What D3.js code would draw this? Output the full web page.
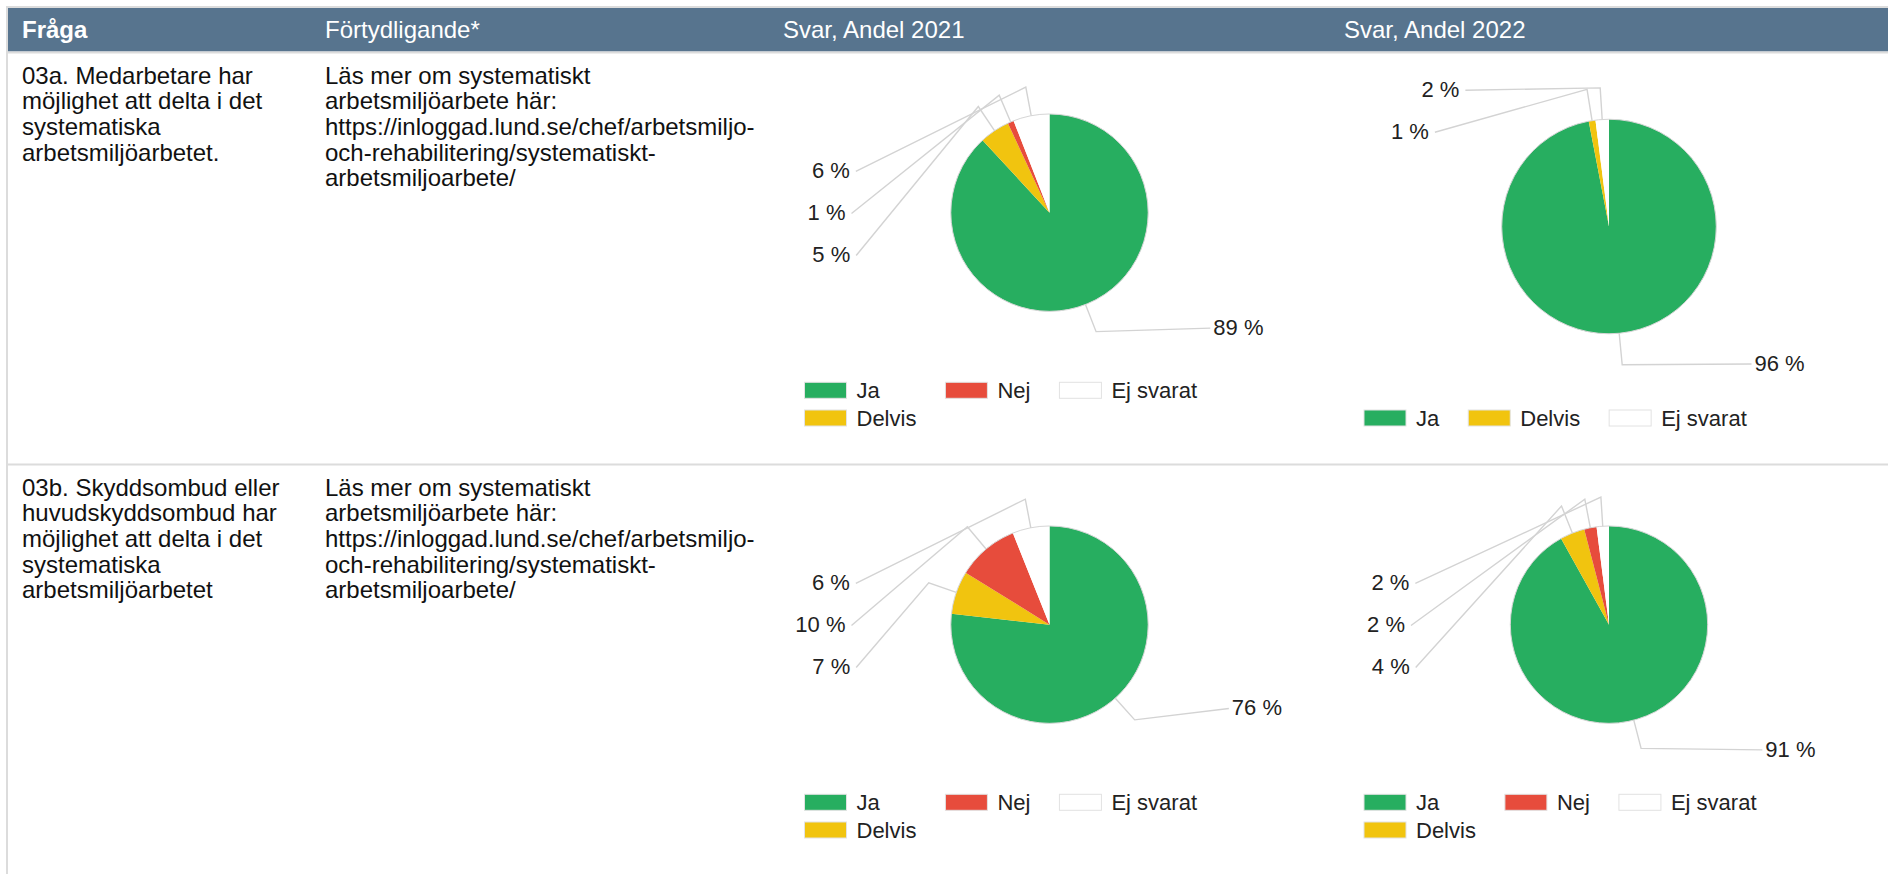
<!DOCTYPE html>
<html>
<head>
<meta charset="utf-8">
<script src="https://cdn.jsdelivr.net/npm/d3@7"></script>
<style>
  html, body { margin: 0; padding: 0; background: #fff; }
  svg { display: block; font-family: "Liberation Sans", Arial, sans-serif; }
</style>
</head>
<body>
<svg id="chart" width="1888" height="874"></svg>
<script>
// table content
const headers = ["Fråga", "Förtydligande*", "Svar, Andel 2021", "Svar, Andel 2022"];
const questions = [
  ["03a. Medarbetare har", "möjlighet att delta i det", "systematiska", "arbetsmiljöarbetet."],
  ["03b. Skyddsombud eller", "huvudskyddsombud har", "möjlighet att delta i det", "systematiska", "arbetsmiljöarbetet"]
];
const clarification = [
  "Läs mer om systematiskt",
  "arbetsmiljöarbete här:",
  "https://inloggad.lund.se/chef/arbetsmiljo-",
  "och-rehabilitering/systematiskt-",
  "arbetsmiljoarbete/"
];

// pie data, slice order clockwise from 12 o'clock
const categories = ["Ja", "Delvis", "Nej", "Ej svarat"];
const colors = ["#27ae60", "#f1c40f", "#e74c3c", "#ffffff"];
const share2021 = [[89, 5, 1, 6], [76, 7, 10, 6]];
const share2022 = [[96, 1, 0, 2], [91, 4, 2, 2]];

// layout
const colEdges = [8, 311, 769, 1330, 1888];
const rowTops = [53.5, 465.5];
const fontSize = 24;
const lineH = 25.7;
// angle where the stack of small-slice labels on the left starts (degrees)
const leftLabelStart = [[-78, -46.5], [-78, -78]];

const svg = d3.select("#chart");

// borders + header band
svg.append("rect").attr("x", 6).attr("y", 6).attr("width", 1882).attr("height", 2).attr("fill", "#dcdcdc");
svg.append("rect").attr("x", 6).attr("y", 6).attr("width", 2).attr("height", 868).attr("fill", "#dcdcdc");
svg.append("rect").attr("x", 8).attr("y", 8).attr("width", 1880).attr("height", 43.5).attr("fill", "#57748e");
svg.append("rect").attr("x", 8).attr("y", 51.5).attr("width", 1880).attr("height", 2).attr("fill", "#dcdcdc");
svg.append("rect").attr("x", 8).attr("y", 463.5).attr("width", 1880).attr("height", 2).attr("fill", "#dcdcdc");

const headerX = [22, 325, 783, 1344];
svg.selectAll("text.head")
  .data(headers)
  .join("text")
  .attr("class", "head")
  .attr("x", (d, i) => headerX[i])
  .attr("y", 38)
  .attr("fill", "#fff")
  .style("font-size", fontSize + "px")
  .style("font-weight", (d, i) => i === 0 ? "bold" : "normal")
  .text(d => d);

function multiline(x, y, lines) {
  const t = svg.append("text")
    .attr("x", x).attr("y", y)
    .attr("fill", "#111")
    .style("font-size", fontSize + "px");
  t.selectAll("tspan")
    .data(lines)
    .join("tspan")
    .attr("x", x)
    .attr("dy", (d, i) => i === 0 ? 0 : lineH)
    .text(d => d);
}

questions.forEach((q, i) => {
  multiline(headerX[0], rowTops[i] + 30, q);
  multiline(headerX[1], rowTops[i] + 30, clarification);
});

function drawPie(values, cx, rowTop, leftStartDeg) {
  const items = categories
    .map((c, i) => ({ cat: c, value: values[i], color: colors[i] }))
    .filter(d => d.value > 0);

  // legend grid: 3 columns, first column takes the extra rows
  const nCols = 3;
  const nRows = Math.ceil(items.length / nCols);
  const cols = [items.slice(0, nRows)];
  items.slice(nRows).forEach(d => cols.push([d]));

  const rowStep = 27.7;
  const legendBottom = rowTop + 364.5;
  const legendTop = legendBottom - (nRows - 1) * rowStep;
  const plotH = legendTop - 18.5 - rowTop;
  const cy = rowTop + plotH / 2;
  const r = 0.31 * plotH;
  const ringR = 198;

  const g = svg.append("g").attr("transform", `translate(${cx},${cy})`);
  const pie = d3.pie().sort(null).value(d => d.value);
  const arcs = pie(items);
  const arc = d3.arc().innerRadius(0).outerRadius(r);

  g.selectAll("path.slice")
    .data(arcs)
    .join("path")
    .attr("class", "slice")
    .attr("d", arc)
    .attr("fill", d => d.data.color);

  g.append("circle").attr("r", r).attr("fill", "none").attr("stroke", "#d6d6d6").attr("stroke-width", 1);

  // labels
  const pt = (rad, a) => [rad * Math.sin(a), -rad * Math.cos(a)];
  const right = arcs.filter(d => (d.startAngle + d.endAngle) / 2 < Math.PI);
  const left = arcs.filter(d => (d.startAngle + d.endAngle) / 2 >= Math.PI)
    .sort((a, b) => (b.startAngle + b.endAngle) - (a.startAngle + a.endAngle));

  const labels = [];
  right.forEach(d => {
    const mid = (d.startAngle + d.endAngle) / 2;
    const a = Math.PI / 2 + 0.52 * (mid - Math.PI / 2);
    labels.push({ d, anchor: pt(ringR, a), side: "right" });
  });
  const y0 = -ringR * Math.cos(leftStartDeg * Math.PI / 180);
  left.forEach((d, i) => {
    const y = y0 + i * 42;
    labels.push({ d, anchor: [-Math.sqrt(ringR * ringR - y * y), y], side: "left" });
  });

  labels.forEach(l => {
    const mid = (l.d.startAngle + l.d.endAngle) / 2;
    const p0 = pt(r, mid);
    const p1 = pt(r * 1.295, mid);
    g.append("polyline")
      .attr("points", [p0, p1, l.anchor].map(p => p.join(",")).join(" "))
      .attr("fill", "none")
      .attr("stroke", "#d3d3d3")
      .attr("stroke-width", 1.4);
    g.append("text")
      .attr("x", l.side === "right" ? l.anchor[0] + 3 : l.anchor[0] - 6)
      .attr("y", l.anchor[1] - 1)
      .attr("dy", "0.35em")
      .attr("text-anchor", l.side === "right" ? "start" : "end")
      .attr("fill", "#222")
      .style("font-size", "22px")
      .text(l.d.data.value + " %");
  });

  // legend
  let lx = cx - 245;
  cols.forEach(col => {
    let maxW = 0;
    col.forEach((d, j) => {
      const y = legendTop + j * rowStep;
      svg.append("rect")
        .attr("x", lx).attr("y", y - 8)
        .attr("width", 42).attr("height", 16)
        .attr("fill", d.color)
        .attr("stroke", "#e2e2e2").attr("stroke-width", 1);
      const t = svg.append("text")
        .attr("x", lx + 52).attr("y", y)
        .attr("dy", "0.35em")
        .attr("fill", "#222")
        .style("font-size", "22px")
        .text(d.cat);
      maxW = Math.max(maxW, t.node().getComputedTextLength());
    });
    lx += 52 + maxW + 29;
  });
}

[share2021, share2022].forEach((yearData, k) => {
  const cx = (colEdges[2 + k] + colEdges[3 + k]) / 2;
  yearData.forEach((vals, i) => {
    drawPie(vals, cx, rowTops[i], leftLabelStart[i][k]);
  });
});
</script>
</body>
</html>
